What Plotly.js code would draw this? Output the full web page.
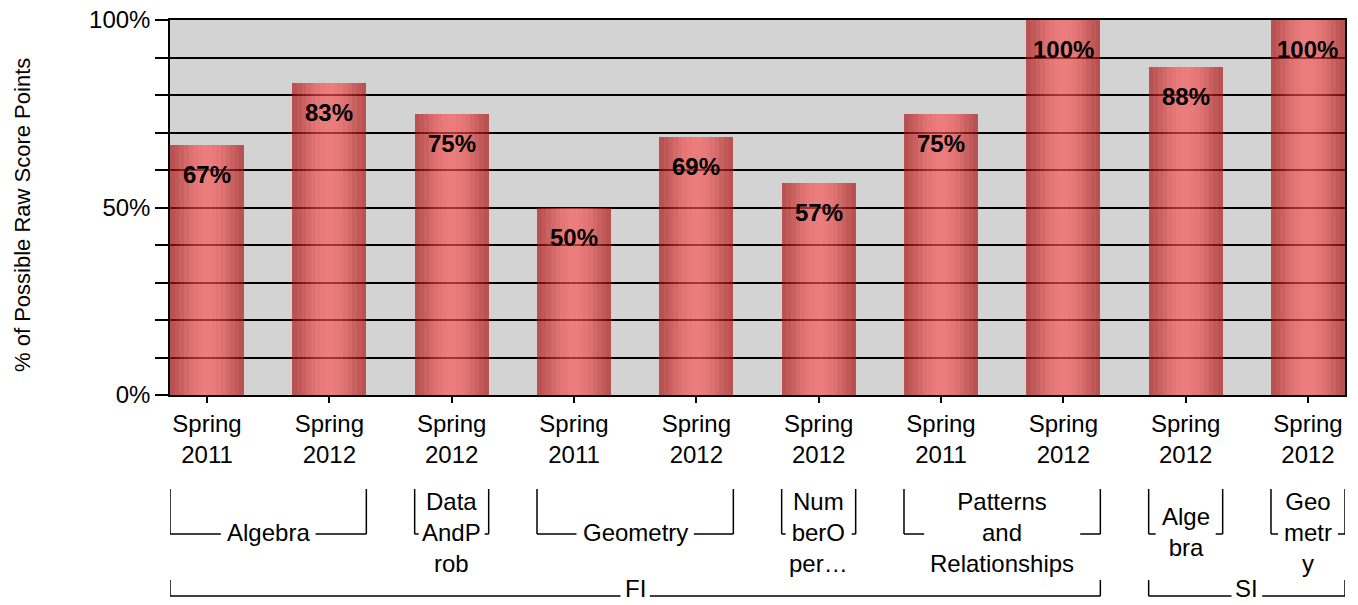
<!DOCTYPE html>
<html><head><meta charset="utf-8">
<script src="https://cdn.plot.ly/plotly-3.0.1.min.js"></script>
<style>html,body{margin:0;padding:0;background:#fff}#chart{width:1358px;height:605px}</style>
</head><body><div id="chart"></div>
<script>
// ---------- data ----------
const years = ["Spring 2011","Spring 2012","Spring 2012","Spring 2011","Spring 2012","Spring 2012","Spring 2011","Spring 2012","Spring 2012","Spring 2012"];
const subjects = ["Algebra","Algebra","DataAndProb","Geometry","Geometry","NumberOper","Patterns and Relationships","Patterns and Relationships","Algebra","Geometry"];
const sections = ["FI","FI","FI","FI","FI","FI","FI","FI","SI","SI"];
const values = [66.7, 83.3, 75, 50, 68.8, 56.5, 75, 100, 87.5, 100];
const valueLabels = ["67%","83%","75%","50%","69%","57%","75%","100%","88%","100%"];
const subjectLabels = ["Algebra","Data<br>AndP<br>rob","Geometry","Num<br>berO<br>per…","Patterns<br>and<br>Relationships","Alge<br>bra","Geo<br>metr<br>y"];
const sectionLabels = ["FI","SI"];
const yTickVals = [0,10,20,30,40,50,60,70,80,90,100];
const yTickText = ["0%","","","","","50%","","","","","100%"];
const yTitle = "% of Possible Raw Score Points";

// ---------- layout helpers ----------
const FONT = "Liberation Sans, Arial, sans-serif";
const FS = 24;
const W = 1358, H = 605, M = {l:170, r:13, t:20, b:210};
const BW = 0.605;
const N = values.length;
const idx = values.map((v,i)=>i);
const xr = [-BW/2, N-1+BW/2];
const plotW = W-M.l-M.r, plotH = H-M.t-M.b;
const ppu = plotW/(xr[1]-xr[0]);
const py = Y => (H - M.b - Y)/plotH;

const cv = document.createElement('canvas').getContext('2d');
cv.font = FS + "px 'Liberation Sans', Arial, sans-serif";
const textW = s => Math.max(...s.split('<br>').map(l => cv.measureText(l).width));

function runs(keys){
  const out=[]; let s=0;
  for(let i=1;i<=keys.length;i++){
    if(i===keys.length || keys[i]!==keys[s]){ out.push({s:s,e:i-1}); s=i; }
  }
  return out;
}

// ---------- bars (horizontal gradient via slices) ----------
const SL = 16, edge=[168,12,12], mid=[249,80,80], alpha=0.66;
const traces = [];
for(let k=0;k<SL;k++){
  const u=(k+0.5)/SL, t=Math.pow(Math.sin(Math.PI*u),1.3);
  const c = edge.map((e,j)=>Math.round(e+(mid[j]-e)*t));
  traces.push({type:'bar', x:idx, y:values, width:BW/SL, offset:-BW/2+k*BW/SL,
    marker:{color:`rgba(${c[0]},${c[1]},${c[2]},${alpha})`, line:{width:0}},
    hoverinfo:'skip', showlegend:false});
}

// ---------- annotations & shapes ----------
const annotations = [];
const shapes = [];
values.forEach((v,i)=>annotations.push({x:i, y:v, xref:'x', yref:'y', text:valueLabels[i],
  showarrow:false, yanchor:'top', yshift:-14, font:{family:FONT, size:FS, color:'#000', weight:'bold'}}));

annotations.push({xref:'paper', yref:'paper', x:(22-M.l)/plotW, y:py(215), text:yTitle, textangle:-90,
  showarrow:false, xanchor:'center', yanchor:'middle', font:{family:FONT, size:22, color:'#000'}});

const line = {color:'#000', width:1.5};
function bracket(s, e, label, yTop, yBot, yText, gap){
  const x0 = s-BW/2, x1 = e+BW/2, xc=(x0+x1)/2;
  annotations.push({xref:'x', yref:'paper', x:xc, y:py(yText), text:label, showarrow:false,
    xanchor:'center', yanchor:'middle', font:{family:FONT, size:FS, color:'#000'}});
  const half = (textW(label)/2 + gap)/ppu;
  const foot = 4/ppu;
  const l1 = Math.max(x0+foot, xc-half), r1 = Math.min(x1-foot, xc+half);
  shapes.push({type:'line', xref:'x', yref:'paper', x0:x0, x1:x0, y0:py(yTop), y1:py(yBot), line:line});
  shapes.push({type:'line', xref:'x', yref:'paper', x0:x1, x1:x1, y0:py(yTop), y1:py(yBot), line:line});
  shapes.push({type:'line', xref:'x', yref:'paper', x0:x0, x1:l1, y0:py(yBot), y1:py(yBot), line:line});
  shapes.push({type:'line', xref:'x', yref:'paper', x0:r1, x1:x1, y0:py(yBot), y1:py(yBot), line:line});
}
runs(sections.map((s,i)=>s+'|'+subjects[i])).forEach((r,j)=>bracket(r.s, r.e, subjectLabels[j], 489, 534, 532, 6));
runs(sections).forEach((r,j)=>bracket(r.s, r.e, sectionLabels[j], 580, 596, 588, 4));

const layout = {
  width:W, height:H, margin:M, barmode:'overlay', bargap:0,
  paper_bgcolor:'#fff', plot_bgcolor:'#d3d3d3',
  font:{family:FONT, size:FS, color:'#000'},
  xaxis:{range:xr, tickvals:idx, ticktext:years.map(y=>y.replace(' ','<br>')),
    ticks:'outside', ticklen:6, tickwidth:1.5, tickcolor:'#000',
    showline:true, linecolor:'#000', linewidth:1.5, mirror:true, showgrid:false, zeroline:false,
    tickfont:{family:FONT, size:FS, color:'#000'}, fixedrange:true},
  yaxis:{range:[0,100], tickvals:yTickVals, ticktext:yTickText,
    ticks:'outside', ticklen:13, tickwidth:1.5, tickcolor:'#000',
    showline:true, linecolor:'#000', linewidth:1.5, mirror:true,
    showgrid:true, gridcolor:'#000', gridwidth:1.5, zeroline:false,
    tickfont:{family:FONT, size:FS, color:'#000'}, fixedrange:true},
  annotations:annotations, shapes:shapes, showlegend:false
};
Plotly.newPlot('chart', traces, layout, {displayModeBar:false});
</script></body></html>
